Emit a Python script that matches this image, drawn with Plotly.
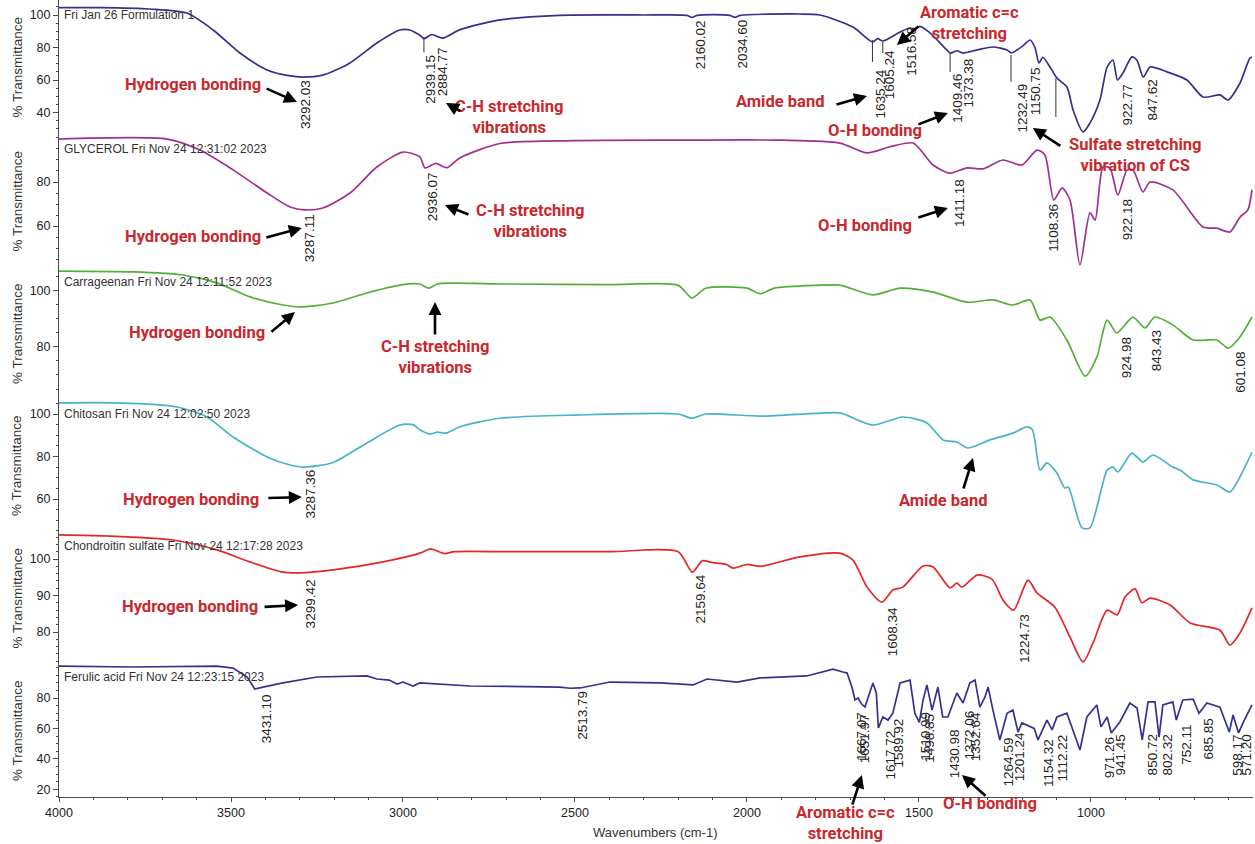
import plotly.graph_objects as go

# ---------------- FTIR spectra: wavenumber (cm-1) and % transmittance ----------------
wn_formulation = [4000, 3880, 3736, 3628, 3552, 3474, 3395, 3328, 3292, 3233, 3154, 3076, 3009, 2980,
                  2951, 2939, 2916, 2885, 2834, 2718, 2544, 2300, 2175, 2160, 2145, 2050, 2035, 2020,
                  1846, 1788, 1692, 1635, 1620, 1605, 1555, 1526, 1516, 1497, 1468, 1419, 1409, 1390,
                  1373, 1331, 1285, 1244, 1232, 1198, 1177, 1163, 1151, 1140, 1119, 1099, 1070, 1052,
                  1023, 1003, 974, 953, 936, 923, 907, 881, 866, 848, 828, 779, 721, 674, 625, 602,
                  567, 538, 532]
t_formulation = [104.5, 104.5, 103.7, 101.2, 90.8, 76.6, 66.2, 62.5, 61.8, 63.0, 70.5, 82.8, 90.8, 90.8,
                 87.5, 85.5, 88.0, 85.8, 91.0, 97.0, 99.8, 100.0, 99.8, 98.5, 99.8, 99.8, 98.6, 99.8,
                 100.6, 100.0, 92.6, 83.4, 85.5, 84.0, 89.5, 92.0, 91.0, 93.0, 89.0, 78.5, 76.6, 78.0,
                 76.6, 78.5, 80.3, 78.5, 76.6, 81.0, 84.6, 80.0, 70.5, 74.0, 68.0, 61.2, 55.7, 41.5,
                 28.0, 33.5, 47.7, 68.0, 72.3, 60.0, 64.3, 74.2, 72.0, 61.8, 68.0, 65.0, 60.0, 49.5,
                 50.8, 47.7, 58.0, 73.5, 74.0]

wn_glycerol = [4000, 3686, 3590, 3494, 3395, 3328, 3287, 3233, 3154, 3076, 3000, 2951, 2936, 2905,
               2872, 2834, 2718, 2500, 2200, 1900, 1730, 1651, 1584, 1517, 1459, 1411, 1360, 1314,
               1256, 1201, 1157, 1134, 1108, 1084, 1061, 1032, 1003, 988, 965, 945, 922, 895, 878,
               849, 828, 762, 674, 634, 596, 567, 544, 532]
t_glycerol = [99.5, 99.5, 94.5, 85.5, 75.0, 68.6, 67.3, 68.2, 75.0, 86.8, 93.6, 91.4, 86.4, 88.5,
              86.5, 91.0, 97.5, 98.8, 99.0, 99.0, 97.7, 93.2, 96.0, 97.7, 87.7, 84.0, 86.4, 86.0,
              90.0, 87.7, 94.5, 92.3, 71.8, 77.3, 71.8, 42.3, 66.0, 62.7, 86.8, 86.4, 74.0, 85.5,
              85.5, 75.5, 80.0, 76.4, 59.5, 59.0, 57.3, 64.0, 67.3, 76.4]

wn_carrageenan = [4000, 3785, 3640, 3541, 3445, 3349, 3299, 3203, 3105, 3009, 2951, 2925, 2900, 2860,
                  2700, 2400, 2200, 2160, 2120, 2000, 1962, 1920, 1800, 1730, 1634, 1555, 1459, 1360,
                  1285, 1227, 1177, 1148, 1119, 1070, 1017, 983, 953, 925, 878, 843, 814, 762, 703,
                  634, 601, 567, 532]
t_carrageenan = [107.1, 106.8, 105.7, 102.9, 97.9, 95.0, 94.3, 95.7, 99.3, 102.1, 102.5, 101.0, 102.5,
                 102.8, 102.5, 102.3, 102.0, 97.5, 101.0, 101.0, 99.0, 101.0, 102.0, 102.1, 98.6,
                 101.0, 99.6, 96.0, 96.8, 95.0, 96.8, 89.6, 90.7, 82.5, 69.6, 76.4, 89.6, 85.0, 90.7,
                 86.8, 90.7, 87.9, 82.5, 82.5, 79.6, 83.6, 90.7]

wn_chitosan = [4000, 3831, 3657, 3570, 3494, 3395, 3328, 3287, 3203, 3105, 3009, 2971, 2950, 2920,
               2900, 2875, 2834, 2718, 2500, 2200, 2160, 2120, 1960, 1800, 1730, 1634, 1547, 1477,
               1430, 1390, 1358, 1294, 1227, 1186, 1170, 1148, 1128, 1099, 1076, 1066, 1026, 1003,
               953, 936, 922, 881, 849, 820, 762, 741, 703, 634, 596, 567, 532]
t_chitosan = [105.2, 105.2, 103.3, 98.6, 89.2, 79.8, 76.0, 75.0, 77.2, 86.4, 94.8, 95.0, 92.5, 90.6,
              91.5, 91.0, 94.0, 98.0, 99.5, 100.0, 98.0, 100.0, 99.0, 100.3, 100.5, 94.8, 98.6, 95.8,
              87.8, 86.8, 84.0, 87.8, 91.0, 93.9, 92.5, 73.6, 77.0, 72.2, 65.2, 65.6, 46.4, 46.4,
              73.6, 75.0, 72.7, 81.6, 77.4, 80.7, 75.0, 73.6, 69.0, 66.6, 63.3, 70.4, 82.0]

wn_chondroitin = [4000, 3860, 3669, 3541, 3445, 3349, 3299, 3203, 3058, 2951, 2920, 2880, 2850, 2700,
                  2400, 2200, 2159, 2130, 2100, 2060, 2040, 2000, 1960, 1850, 1730, 1692, 1651, 1608,
                  1576, 1547, 1488, 1459, 1410, 1390, 1375, 1331, 1288, 1256, 1225, 1183, 1157, 1105,
                  1061, 1023, 994, 953, 924, 901, 872, 852, 828, 770, 712, 625, 596, 567, 532]
t_chondroitin = [106.6, 106.3, 105.2, 102.5, 99.2, 96.4, 96.2, 97.0, 99.2, 101.6, 102.8, 101.5, 102.0,
                 102.0, 102.0, 102.0, 96.4, 99.5, 99.0, 98.5, 97.5, 98.5, 98.0, 100.5, 101.6, 99.7,
                 92.3, 88.2, 91.5, 92.3, 98.1, 97.8, 92.1, 93.4, 92.3, 95.6, 94.5, 88.8, 86.0, 94.2,
                 90.7, 86.8, 78.6, 71.8, 77.0, 86.0, 84.7, 89.6, 91.8, 88.0, 89.3, 87.4, 82.5, 80.5,
                 76.4, 79.7, 86.6]

wn_ferulic = [4000, 3785, 3541, 3494, 3453, 3431, 3407, 3349, 3250, 3105, 3076, 3040, 3017, 3000,
              2971, 2951, 2805, 2660, 2544, 2514, 2485, 2398, 2253, 2157, 2116, 2029, 1962, 1826,
              1750, 1721, 1709, 1695, 1686, 1677, 1667, 1657, 1642, 1634, 1624, 1618, 1605, 1590,
              1576, 1555, 1526, 1512, 1499, 1488, 1477, 1462, 1445, 1431, 1416, 1390, 1372, 1352,
              1337, 1323, 1308, 1299, 1285, 1265, 1244, 1227, 1212, 1201, 1165, 1154, 1128, 1113,
              1099, 1070, 1032, 1012, 983, 971, 953, 941, 916, 887, 866, 851, 834, 814, 802, 791,
              762, 752, 733, 703, 686, 663, 625, 598, 587, 571, 558, 532]
t_ferulic = [101.0, 100.4, 101.0, 99.7, 93.8, 85.9, 87.2, 89.9, 93.8, 94.5, 92.5, 91.8, 89.2, 90.5,
             87.9, 89.9, 87.9, 87.5, 87.2, 86.4, 86.6, 90.5, 89.9, 88.6, 92.5, 90.5, 93.2, 94.5,
             99.0, 97.1, 96.4, 87.2, 78.7, 80.0, 76.0, 74.0, 85.3, 89.9, 83.3, 60.3, 67.5, 65.5,
             70.0, 89.9, 91.8, 70.0, 64.0, 78.7, 88.6, 72.0, 87.2, 67.5, 67.5, 83.3, 76.7, 89.9,
             91.8, 74.0, 80.7, 87.2, 72.0, 52.4, 70.0, 72.1, 57.6, 63.6, 60.0, 52.4, 65.5, 59.0,
             67.5, 70.0, 45.8, 67.5, 75.4, 61.0, 67.5, 57.0, 64.2, 76.7, 73.4, 52.4, 77.4, 77.4,
             54.3, 75.4, 77.4, 65.5, 78.7, 79.3, 70.0, 76.7, 74.0, 57.6, 68.8, 57.0, 63.6, 75.4]

sample_titles = ["Fri Jan 26 Formulation 1",
                 "GLYCEROL Fri Nov 24 12:31:02 2023",
                 "Carrageenan Fri Nov 24 12:11:52 2023",
                 "Chitosan Fri Nov 24 12:02:50 2023",
                 "Chondroitin sulfate Fri Nov 24 12:17:28 2023",
                 "Ferulic acid Fri Nov 24 12:23:15 2023"]
line_colors = ["#33308f", "#a0308f", "#52b03a", "#46b3c6", "#e2262c", "#33338f"]
x_tick_values = [4000, 3500, 3000, 2500, 2000, 1500, 1000]
y_tick_values = [[100, 80, 60, 40], [80, 60], [100, 80], [100, 80, 60], [100, 90, 80], [80, 60, 40, 20]]
y_minor_step = [5, 5, 5, 5, 2, 5]

series = [(wn_formulation, t_formulation), (wn_glycerol, t_glycerol), (wn_carrageenan, t_carrageenan),
          (wn_chitosan, t_chitosan), (wn_chondroitin, t_chondroitin), (wn_ferulic, t_ferulic)]

# ---------------- layout geometry ----------------
W, H = 1255, 844
M_L, M_R, M_T, M_B = 59, 2, 0, 47
PLOT_H = H - M_T - M_B
bands = [(0, 135), (135, 268), (268, 400), (400, 532), (532, 665), (665, 797)]   # pixel rows of panels
y_ranges = [(26.15, 109.23), (40.91, 101.36), (61.07, 108.21), (44.47, 106.59), (70.96, 107.40), (14.87, 101.71)]
title_rows = [15, 149, 282, 414, 546, 677]

TXT = "#222222"
AX = "#4a4a4a"
RED = "#c8282d"
FONT = "Liberation Sans, Arial, sans-serif"
RED_FONT = dict(size=16.5, color=RED, family="Roboto, Arial, sans-serif", weight="bold")


def py_to_paper(py):
    return (PLOT_H - py) / PLOT_H


fig = go.Figure()
for i, ((wn, t), col) in enumerate(zip(series, line_colors)):
    yname = "y" if i == 0 else f"y{i + 1}"
    fig.add_trace(go.Scatter(x=wn, y=t, mode="lines", xaxis="x", yaxis=yname,
                             line=dict(color=col, width=1.7,
                                       shape="linear" if i == 5 else "spline",
                                       smoothing=0.7),
                             showlegend=False, hoverinfo="skip"))

layout = dict(
    width=W, height=H,
    margin=dict(l=M_L, r=M_R, t=M_T, b=M_B),
    paper_bgcolor="white", plot_bgcolor="white",
    font=dict(family=FONT, color=TXT, size=12.5),
    xaxis=dict(range=[4000, 529], domain=[0, 1], anchor="y6",
               showline=True, linecolor=AX, linewidth=1, showgrid=False, zeroline=False,
               ticks="outside", ticklen=4, tickcolor=AX, tickvals=x_tick_values,
               tickfont=dict(size=12.5, color=TXT, family=FONT),
               minor=dict(tickmode="linear", tick0=0, dtick=100, ticks="outside", ticklen=2, tickcolor=AX)),
)
for i in range(6):
    key = "yaxis" if i == 0 else f"yaxis{i + 1}"
    top, bot = bands[i]
    layout[key] = dict(
        domain=[py_to_paper(bot), py_to_paper(top)], range=list(y_ranges[i]), anchor="x",
        showline=True, linecolor=AX, linewidth=1, showgrid=False, zeroline=False,
        ticks="outside", ticklen=5, tickcolor=AX, tickvals=y_tick_values[i],
        tickfont=dict(size=12.5, color=TXT, family=FONT),
        minor=dict(tickmode="linear", tick0=0, dtick=y_minor_step[i], ticks="outside",
                   ticklen=2, tickcolor=AX),
    )
fig.update_layout(**layout)

ann = []
# sample headers and axis titles
for i in range(6):
    ann.append(dict(text=sample_titles[i], xref="paper", yref="paper", x=0, xshift=3,
                    y=py_to_paper(title_rows[i]), xanchor="left", yanchor="middle", showarrow=False,
                    font=dict(size=12, color="#333333", family=FONT)))
    top, bot = bands[i]
    ann.append(dict(text="% Transmittance", xref="paper", yref="paper", x=0, xshift=-42,
                    y=py_to_paper((top + bot) / 2), textangle=-90, xanchor="center", yanchor="middle",
                    showarrow=False, font=dict(size=13.5, color="#333333", family=FONT)))
ann.append(dict(text="Wavenumbers (cm-1)", xref="paper", yref="paper", x=0.499, y=0, yshift=-35,
                xanchor="center", yanchor="middle", showarrow=False,
                font=dict(size=13, color="#333333", family=FONT)))

# peak positions: (label, panel, top of label in % T, horizontal offset in px)
peak_labels = [
    ("3292.03", 0, 61.2, 3), ("2939.15", 0, 77.0, 7), ("2884.77", 0, 81.5, 0),
    ("2160.02", 0, 98.2, 8), ("2034.60", 0, 98.2, 7), ("1635.24", 0, 68.0, 8.5),
    ("1605.24", 0, 79.7, 7), ("1516.58", 0, 93.8, -2), ("1409.46", 0, 64.9, 7),
    ("1373.38", 0, 74.2, 5.5), ("1232.49", 0, 58.8, 11), ("1150.75", 0, 69.2, -4),
    ("922.77", 0, 58.2, 9.5), ("847.62", 0, 61.8, 9.5),
    ("3287.11", 1, 66.4, 6), ("2936.07", 1, 85.5, 7), ("1411.18", 1, 82.3, 10.5),
    ("1108.36", 1, 70.9, -1), ("922.18", 1, 73.2, 10),
    ("924.98", 2, 84.3, 10), ("843.43", 2, 86.8, 12), ("601.08", 2, 78.9, 12),
    ("3287.36", 3, 74.6, 6),
    ("3299.42", 4, 95.1, 10), ("2159.64", 4, 96.2, 8), ("1608.34", 4, 87.4, 11), ("1224.73", 4, 85.5, 11),
    ("3431.10", 5, 83.9, 12), ("2513.79", 5, 85.9, 12), ("1667.07", 5, 72.1, 0), ("1651.97", 5, 70.8, -2),
    ("1617.72", 5, 60.3, 11.5), ("1589.92", 5, 67.5, 10), ("1510.99", 5, 72.1, 10), ("1498.85", 5, 70.8, 10),
    ("1430.98", 5, 60.9, 12), ("1372.06", 5, 73.4, 7), ("1352.64", 5, 72.1, 6), ("1264.59", 5, 55.7, 8),
    ("1201.24", 5, 58.9, -2), ("1154.32", 5, 54.3, 10), ("1112.22", 5, 57.6, 10.5), ("971.26", 5, 55.7, 9),
    ("941.45", 5, 57.0, 9), ("850.72", 5, 57.6, 10.5), ("802.32", 5, 57.6, 9), ("752.11", 5, 63.6, 10.5),
    ("685.85", 5, 67.5, 9), ("598.17", 5, 57.0, 8), ("571.20", 5, 57.6, 8.5),
]
for label, p, top_val, shift in peak_labels:
    ann.append(dict(text=label, xref="x", yref="y" if p == 0 else f"y{p + 1}", x=float(label),
                    xshift=shift, y=top_val, textangle=-90, xanchor="center", yanchor="top",
                    showarrow=False, font=dict(size=13.5, color=TXT, family=FONT)))

# red band assignments inside the panels: (text, x in cm-1, yref, y)
band_notes = [
    ("Hydrogen bonding", 3610, "y", 57.5),
    ("C-H stretching<br>vibrations", 2692, "y", 37.2),
    ("Aromatic c=c<br>stretching", 1352, "y", 95.0),
    ("Amide band", 1905, "y", 46.5),
    ("O-H bonding", 1628, "y", 29.2),
    ("Sulfate stretching<br>vibration of CS", 872, "y2", 92.3),
    ("Hydrogen bonding", 3610, "y2", 55.0),
    ("C-H stretching<br>vibrations", 2631, "y2", 62.3),
    ("O-H bonding", 1657, "y2", 60.0),
    ("Hydrogen bonding", 3599, "y3", 85.0),
    ("C-H stretching<br>vibrations", 2907, "y3", 76.4),
    ("Hydrogen bonding", 3616, "y4", 60.0),
    ("Amide band", 1430, "y4", 59.5),
    ("Hydrogen bonding", 3619, "y5", 87.1),
]
for text, x, yref, y in band_notes:
    ann.append(dict(text=text, xref="x", yref=yref, x=x, y=y, xanchor="center", yanchor="middle",
                    showarrow=False, align="center", font=RED_FONT))

# notes below the wavenumber axis: (text, x in cm-1, px below the axis line)
below_notes = [("Aromatic c=c<br>stretching", 1715, 26), ("O-H bonding", 1294, 6)]
for text, x, drop in below_notes:
    ann.append(dict(text=text, xref="x", yref="paper", x=x, y=0, yshift=-drop, xanchor="center",
                    yanchor="middle", showarrow=False, align="center", font=RED_FONT))

# pointer arrows: tip (x, yref, y) and tail offset in px
pointers = [
    (3308, "y", 46.5, -32, -14), (2875, "y", 45.8, 16, 9), (1564, "y", 81.5, 23, -20),
    (1651, "y", 50.2, -32, 9), (1416, "y", 39.7, -31, 12), (1169, "y", 30.5, 29, 19),
    (3294, "y2", 59.1, -37, 10), (2878, "y2", 69.5, 25, 10), (1416, "y2", 68.2, -31, 10),
    (3314, "y3", 92.5, -25, 21), (2907, "y3", 96.1, 0, 34),
    (3294, "y4", 60.9, -35, 1), (1343, "y4", 79.3, -10, 32),
    (3305, "y5", 87.4, -35, 2),
    (1666, "y6", 29.3, -10, 31), (1375, "y6", 29.3, 25, 22),
]
for x, yref, y, ax, ay in pointers:
    ann.append(dict(text="", xref="x", yref=yref, x=x, y=y, ax=ax, ay=ay, showarrow=True,
                    arrowhead=2, arrowsize=1, arrowwidth=2.6, arrowcolor="black", standoff=0))

fig.update_layout(annotations=ann)

# short leader lines from peaks of the formulation spectrum to their labels
leaders = [(2939.15, 86.5, 77.0), (1635.24, 84.6, 71.1), (1605.24, 83.4, 76.6),
           (1409.46, 76.6, 64.9), (1232.49, 75.4, 58.8), (1102.0, 61.2, 37.2)]
for x, y0, y1 in leaders:
    fig.add_shape(type="line", xref="x", yref="y", x0=x, x1=x, y0=y0, y1=y1,
                  line=dict(color="#333333", width=1))

fig.write_html("out.html")
